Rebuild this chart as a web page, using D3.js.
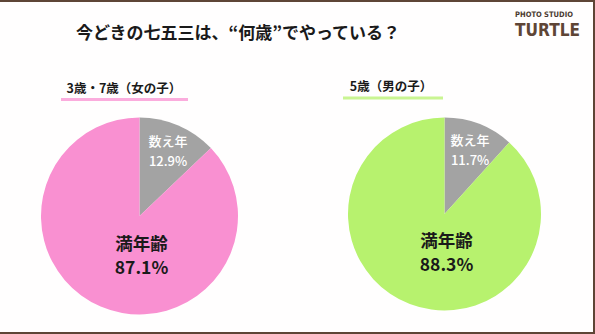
<!DOCTYPE html>
<html>
<head>
<meta charset="utf-8">
<script src="https://cdn.jsdelivr.net/npm/d3@7"></script>
<style>
html,body{margin:0;padding:0;background:#fff;}
svg{display:block;}
</style>
</head>
<body>
<svg id="c" width="595" height="334"></svg>
<script>
const title = "今どきの七五三は、“何歳”でやっている？";
const groups = ["3歳・7歳（女の子）", "5歳（男の子）"];
const categories = ["数え年", "満年齢"];
const girlsValues = [12.9, 87.1];
const boysValues = [11.7, 88.3];
const groupColors = ["#f990d1", "#b7f26e"];
const otherColor = "#a3a3a3";

const svg = d3.select("#c");
const W = 595, H = 334;
const FONT = "'Noto Sans CJK JP', 'Noto Sans', sans-serif";

svg.append("rect").attr("width", W).attr("height", H).attr("fill", "#fffefe");
// frame
const brown = "#5e4536";
svg.append("rect").attr("x", 0).attr("y", 0).attr("width", W).attr("height", 2).attr("fill", brown);
svg.append("rect").attr("x", 593).attr("y", 0).attr("width", 2).attr("height", H).attr("fill", brown);
svg.append("rect").attr("x", 0).attr("y", 332).attr("width", W).attr("height", 2).attr("fill", brown);

// title
svg.append("text").attr("x", 238).attr("y", 39).attr("text-anchor", "middle")
  .attr("font-family", FONT).attr("font-weight", 700).attr("font-size", 17)
  .attr("fill", "#1a1a1a").text(title);

// logo
svg.append("text").attr("x", 515).attr("y", 16.5).attr("font-family", "'DejaVu Sans', sans-serif")
  .attr("font-weight", 700).attr("font-size", 7.5).attr("fill", "#4a3a30")
  .attr("textLength", 58).attr("lengthAdjust", "spacingAndGlyphs").text("PHOTO STUDIO");
svg.append("text").attr("x", 515).attr("y", 35.5).attr("font-family", "'DejaVu Sans', sans-serif")
  .attr("font-weight", 900).attr("font-size", 18).attr("fill", "#5e4536")
  .attr("textLength", 65).attr("lengthAdjust", "spacingAndGlyphs").text("TURTLE");

const pies = [
  {label: groups[0], values: girlsValues, color: groupColors[0], cx: 139.5, cy: 216, r: 98.5,
   lx: 124, ly: 93, bx: 61, bw: 127, by: 98},
  {label: groups[1], values: boysValues, color: groupColors[1], cx: 444.5, cy: 214, r: 96.5,
   lx: 391, ly: 91, bx: 343, bw: 100, by: 96.5}
];

const pie = d3.pie().sort(null).value(d => d.value);

pies.forEach(p => {
  const g = svg.append("g");
  g.append("rect").attr("x", p.bx).attr("y", p.by).attr("width", p.bw).attr("height", 3)
    .attr("fill", p.color).attr("opacity", 0.75);
  g.append("text").attr("x", p.lx).attr("y", p.ly).attr("text-anchor", "middle")
    .attr("font-family", FONT).attr("font-weight", 700).attr("font-size", 12.5)
    .attr("fill", "#1a1a1a").text(p.label);

  const data = categories.map((c, i) => ({cat: c, value: p.values[i]}));
  const arcs = pie(data);
  const arc = d3.arc().innerRadius(0).outerRadius(p.r);
  const labelArc = d3.arc().innerRadius(p.r * 0.71).outerRadius(p.r * 0.71);
  const pg = g.append("g").attr("transform", `translate(${p.cx},${p.cy})`);
  pg.selectAll("path").data(arcs).enter().append("path")
    .attr("d", arc).attr("fill", (d, i) => i === 0 ? otherColor : p.color);

  arcs.forEach((d, i) => {
    let x, y, fs, col;
    if (i === 0) {
      [x, y] = labelArc.centroid(d);
      fs = 13; col = "#ffffff";
      x += 1;
    } else {
      x = 2; y = p.r * 0.4;
      fs = 17.5; col = "#1a1a1a";
    }
    const t = pg.append("text").attr("text-anchor", "middle")
      .attr("font-family", FONT).attr("font-weight", i === 0 ? 500 : 700)
      .attr("font-size", fs).attr("fill", col);
    const gap = i === 0 ? 20 : 24;
    t.append("tspan").attr("x", x).attr("y", y - gap / 2 + fs * 0.36).text(d.data.cat);
    t.append("tspan").attr("x", x).attr("y", y + gap / 2 + fs * 0.36).text(d.data.value.toFixed(1) + "%");
  });
});
</script>
</body>
</html>
